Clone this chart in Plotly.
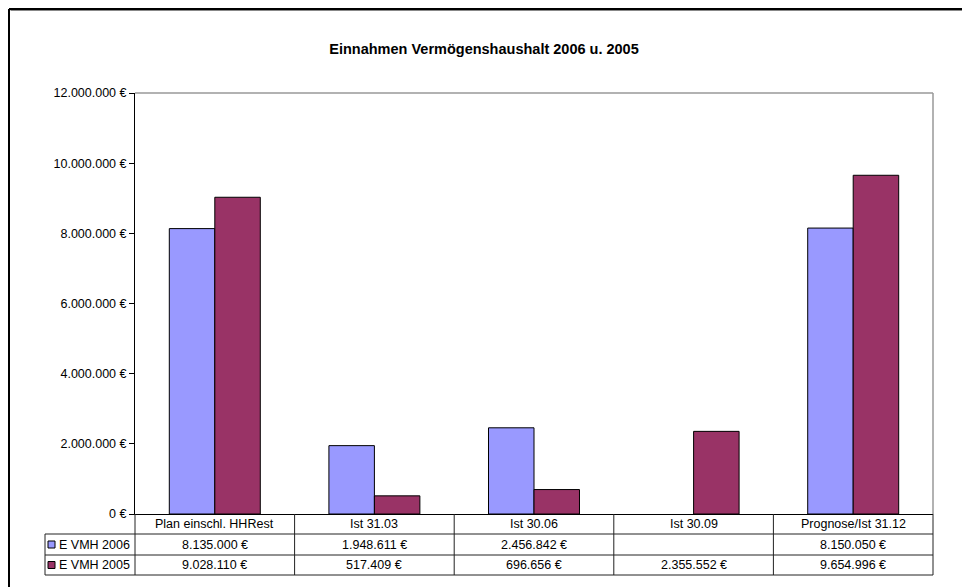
import plotly.graph_objects as go

categories = ["Plan einschl. HHRest", "Ist 31.03", "Ist 30.06", "Ist 30.09", "Prognose/Ist 31.12"]
series_names = ["E VMH 2006", "E VMH 2005"]
vmh_2006 = [8135000, 1948611, 2456842, None, 8150050]
vmh_2005 = [9028110, 517409, 696656, 2355552, 9654996]
y_ticks = [0, 2000000, 4000000, 6000000, 8000000, 10000000, 12000000]
colors = ["#9999FF", "#993366"]

W, H = 962, 587
L, R, T, B = 135, 933, 93, 514   # plot area in pixels
FONT = "Arial, 'Liberation Sans', sans-serif"
FS = 12.5


def px(x):
    return (x - L) / (R - L)


def py(y):
    return (B - y) / (B - T)


def euro(v):
    if v is None:
        return ""
    return f"{v:,.0f}".replace(",", ".") + " €"


fig = go.Figure()
for name, vals, col in zip(series_names, [vmh_2006, vmh_2005], colors):
    fig.add_trace(go.Bar(
        x=categories, y=vals, name=name,
        marker=dict(color=col, line=dict(color="black", width=1)),
    ))

shapes = []
ann = []

# outer chart frame
shapes.append(dict(type="line", xref="paper", yref="paper", x0=px(9), x1=px(9), y0=py(600), y1=py(9),
                   line=dict(color="black", width=2)))
shapes.append(dict(type="line", xref="paper", yref="paper", x0=px(9), x1=px(970), y0=py(9), y1=py(9),
                   line=dict(color="black", width=2)))
shapes.append(dict(type="line", xref="paper", yref="paper", x0=px(10.5), x1=px(970), y0=py(10.5), y1=py(10.5),
                   line=dict(color="#888888", width=1)))

# plot area border (top and right)
shapes.append(dict(type="line", xref="paper", yref="paper", x0=0, x1=1, y0=1, y1=1,
                   line=dict(color="#999999", width=1.5)))
shapes.append(dict(type="line", xref="paper", yref="paper", x0=1, x1=1, y0=0, y1=1,
                   line=dict(color="#999999", width=1.5)))

# data table grid
row_lines = [534, 555, 575]
n = len(categories)
cw = (R - L) / n
for k in range(n + 1):
    xk = L + k * cw
    shapes.append(dict(type="line", xref="paper", yref="paper", x0=px(xk), x1=px(xk), y0=py(B), y1=py(575),
                       line=dict(color="#222222", width=1)))
for yl in row_lines:
    shapes.append(dict(type="line", xref="paper", yref="paper", x0=px(45), x1=px(R), y0=py(yl), y1=py(yl),
                       line=dict(color="#222222", width=1)))
shapes.append(dict(type="line", xref="paper", yref="paper", x0=px(45), x1=px(45), y0=py(534), y1=py(575),
                   line=dict(color="#222222", width=1)))

# category header row
for c in categories:
    ann.append(dict(x=c, xref="x", y=py(524), yref="paper", text=c, showarrow=False,
                    xanchor="center", yanchor="middle", font=dict(family=FONT, size=FS, color="black")))

# series rows with legend keys
row_centers = [544.5, 565]
for name, vals, col, yc in zip(series_names, [vmh_2006, vmh_2005], colors, row_centers):
    shapes.append(dict(type="rect", xref="paper", yref="paper", x0=px(48), x1=px(55),
                       y0=py(yc - 3.5), y1=py(yc + 3.5), fillcolor=col, line=dict(color="black", width=1)))
    ann.append(dict(x=px(57), xref="paper", y=py(yc), yref="paper", text=name, showarrow=False,
                    xanchor="left", yanchor="middle", font=dict(family=FONT, size=FS, color="black")))
    for c, v in zip(categories, vals):
        if v is None:
            continue
        ann.append(dict(x=c, xref="x", y=py(yc), yref="paper", text=euro(v), showarrow=False,
                        xanchor="center", yanchor="middle", font=dict(family=FONT, size=FS, color="black")))

fig.update_layout(
    width=W, height=H,
    margin=dict(l=L, r=W - R, t=T, b=H - B, pad=0),
    paper_bgcolor="white", plot_bgcolor="white",
    barmode="group", bargap=0.43, bargroupgap=0,
    showlegend=False,
    title=dict(text="<b>Einnahmen Vermögenshaushalt 2006 u. 2005</b>", x=484 / W, xanchor="center",
               xref="container", y=1 - 49 / H, yanchor="middle", yref="container",
               font=dict(family=FONT, size=14.5, color="black")),
    font=dict(family=FONT, size=FS, color="black"),
    shapes=shapes, annotations=ann,
)
fig.update_xaxes(showticklabels=False, ticks="", showline=True, linecolor="black", linewidth=1,
                 showgrid=False, zeroline=False, fixedrange=True)
fig.update_yaxes(range=[0, 12000000], tickvals=y_ticks, ticktext=[euro(v) for v in y_ticks],
                 ticks="outside", ticklen=5, tickcolor="black", showline=True, linecolor="black",
                 linewidth=1, showgrid=False, zeroline=False, tickfont=dict(family=FONT, size=FS))

fig.write_html("out.html")
